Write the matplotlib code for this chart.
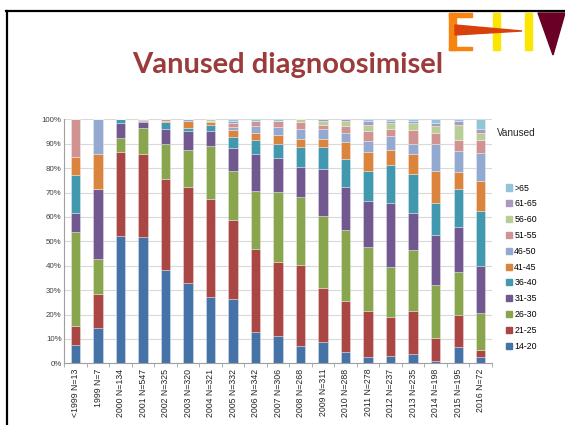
import matplotlib.pyplot as plt
import matplotlib.patches as mpatches
import numpy as np

# Age groups at diagnosis, share in percent per year of diagnosis
years = ["<1999 N=13", "1999 N=7", "2000 N=134", "2001 N=547", "2002 N=325",
         "2003 N=320", "2004 N=321", "2005 N=332", "2006 N=342", "2007 N=306",
         "2008 N=268", "2009 N=311", "2010 N=288", "2011 N=278", "2012 N=237",
         "2013 N=235", "2014 N=198", "2015 N=195", "2016 N=72"]

groups = ["14-20", "21-25", "26-30", "31-35", "36-40", "41-45",
          "46-50", "51-55", "56-60", "61-65", ">65"]

age_14_20 = [7.7, 14.3, 52.2, 51.9, 38.4, 32.8, 27.3, 26.2, 12.8, 11.3, 7.0, 8.6, 4.5, 2.7, 3.0, 3.7, 1.1, 6.6, 2.7]
age_21_25 = [7.7, 14.3, 34.3, 34.0, 37.0, 39.6, 40.2, 32.5, 33.9, 30.4, 33.2, 22.4, 21.2, 18.7, 15.9, 17.9, 9.4, 13.3, 2.9]
age_26_30 = [38.5, 14.3, 6.0, 10.4, 14.4, 14.9, 21.6, 20.0, 23.8, 28.7, 27.8, 29.4, 28.9, 26.1, 20.7, 24.7, 21.5, 17.5, 15.2]
age_31_35 = [7.7, 28.6, 5.9, 2.5, 6.1, 7.8, 6.3, 9.4, 15.2, 13.6, 12.3, 19.2, 17.8, 19.2, 26.0, 15.4, 20.5, 18.3, 19.2]
age_36_40 = [15.4, 0, 1.6, 0.4, 3.0, 1.5, 2.2, 4.7, 5.7, 6.0, 8.4, 9.1, 11.5, 12.1, 15.7, 15.8, 13.2, 15.6, 22.6]
age_41_45 = [7.7, 14.3, 0, 0.4, 0.4, 2.7, 1.4, 2.7, 3.0, 3.4, 3.4, 3.1, 6.9, 7.8, 6.1, 8.3, 13.1, 7.3, 12.3]
age_46_50 = [0, 14.3, 0, 0.4, 0, 0.7, 0.4, 1.5, 2.9, 3.4, 3.8, 4.1, 3.7, 4.7, 5.6, 4.1, 11.0, 8.6, 11.2]
age_51_55 = [15.4, 0, 0, 0, 0.7, 0, 0, 1.4, 2.0, 2.5, 3.0, 1.9, 2.9, 3.8, 3.2, 5.6, 4.5, 4.2, 5.6]
age_56_60 = [0, 0, 0, 0, 0, 0, 0.7, 0, 0, 0, 1.1, 1.5, 1.8, 2.6, 2.3, 3.0, 3.0, 6.1, 2.7]
age_61_65 = [0, 0, 0, 0, 0, 0, 0, 0.8, 0, 0, 0, 0.7, 0.8, 1.8, 0.8, 1.0, 1.2, 2.0, 1.5]
age_over_65 = [0, 0, 0, 0, 0, 0, 0, 0.8, 0.7, 0.7, 0, 0, 0, 0.5, 0.7, 0.5, 1.5, 0.5, 4.1]

series = [age_14_20, age_21_25, age_26_30, age_31_35, age_36_40, age_41_45,
          age_46_50, age_51_55, age_56_60, age_61_65, age_over_65]
colors = ["#4572A7", "#AA4643", "#89A54E", "#71588F", "#4198AF", "#DB843D",
          "#93A9CF", "#D19392", "#B9CD96", "#A99BBD", "#92C5D7"]

fig = plt.figure(figsize=(5.65, 4.25), dpi=100)
ax = fig.add_axes([64.3 / 565, 1 - 363.3 / 425, 427.7 / 565, 244 / 425])

x = np.arange(len(years))
bottom = np.zeros(len(years))
handles = []
for vals, col, name in zip(series, colors, groups):
    vals = np.array(vals, dtype=float)
    ax.bar(x, vals, 0.42, bottom=bottom, color=col,
           edgecolor=(1, 1, 1, 0.45), linewidth=0.5, zorder=3)
    bottom += vals
    handles.append(mpatches.Patch(color=col, label=name))

ax.set_xlim(-0.5, 18.5)
ax.set_ylim(0, 100)
ax.set_yticks(range(0, 101, 10))
ax.set_yticklabels([f"{v}%" for v in range(0, 101, 10)], fontsize=5.7,
                   color="#404040", family="Liberation Sans")
ax.set_xticks(x)
ax.set_xticklabels(years, rotation=90, fontsize=6.3, color="#262626",
                   family="Liberation Sans")
ax.set_xticks(np.arange(-0.5, 19, 1), minor=True)
ax.tick_params(axis="x", which="major", length=0, pad=4)
ax.tick_params(axis="x", which="minor", length=3, color="#A0A0A0", width=0.6)
ax.tick_params(axis="y", length=0, pad=2)
ax.grid(axis="y", color="#D9D9D9", linewidth=0.8, zorder=0)
for side in ["top", "right"]:
    ax.spines[side].set_visible(False)
ax.spines["left"].set_color("#A0A0A0")
ax.spines["bottom"].set_color("#A0A0A0")

fig.text(497 / 565, 1 - 133 / 425, "Vanused", fontsize=7.2, color="#262626",
         family="Liberation Sans", va="center")
leg = fig.legend(handles=handles[::-1], loc="upper left",
                 bbox_to_anchor=(502 / 565, 1 - 180 / 425), frameon=False,
                 handlelength=0.7, handleheight=0.7,
                 handletextpad=0.3, labelspacing=0.78, borderaxespad=0,
                 prop={"family": "Liberation Sans", "size": 6.3})

# slide title
fig.text(287.4 / 565, 1 - 73.3 / 425, "Vanused diagnoosimisel", fontsize=21,
         fontweight="bold", color="#9B3B3B", family="Lato", ha="center",
         va="baseline")

# slide frame
fig.add_artist(plt.Line2D([6 / 565, 1], [1 - 11 / 425] * 2, color="black",
                          linewidth=1.6))
fig.add_artist(plt.Line2D([7 / 565] * 2, [0, 1 - 11 / 425], color="black",
                          linewidth=1.6))

# logo in the top right corner
def fx(px):
    return px / 565

def fy(py):
    return 1 - py / 425

orange = "#F7840F"
for (x0, y0, w, h) in [(449, 13, 7, 37), (449, 13, 23, 3.5), (449, 46.5, 23, 3.5)]:
    fig.add_artist(mpatches.Rectangle((fx(x0), fy(y0 + h)), w / 565, h / 425,
                                      color=orange, transform=fig.transFigure))
for x0 in [493, 525]:
    fig.add_artist(mpatches.Rectangle((fx(x0), fy(50)), 7 / 565, 37 / 425,
                                      color="#FCE500", transform=fig.transFigure))
fig.add_artist(mpatches.Polygon([(fx(455), fy(25)), (fx(522), fy(31)),
                                 (fx(455), fy(35))], color="#D8400C",
                                transform=fig.transFigure))
fig.add_artist(mpatches.Polygon([(fx(538), fy(13)), (fx(565), fy(13)),
                                 (fx(553), fy(55))], color="#6A0026",
                                transform=fig.transFigure))

fig.savefig("out.png", dpi=100)
